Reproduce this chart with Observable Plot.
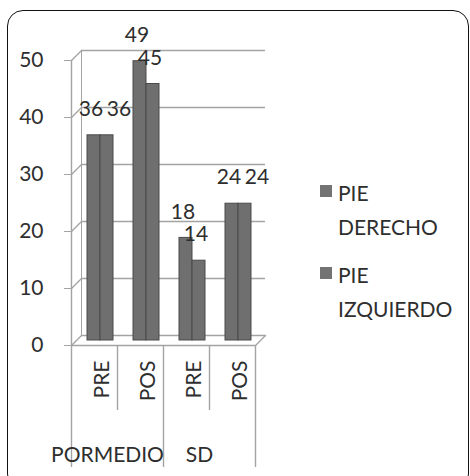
<!DOCTYPE html>
<html>
<head>
<meta charset="utf-8">
<script src="https://cdn.jsdelivr.net/npm/d3@7"></script>
<script src="https://cdn.jsdelivr.net/npm/@observablehq/plot@0.6"></script>
<style>
  html, body { margin: 0; padding: 0; background: #fff; overflow: hidden; }
  #wrap { position: relative; width: 470px; height: 476px; overflow: hidden; font-family: Lato, "DejaVu Sans", sans-serif; }
  #frame { position: absolute; left: 7px; top: 10px; width: 462px; height: 480px; border: 1.6px solid #111; border-radius: 16px; box-sizing: border-box; }
  #main, #bottom { position: absolute; left: 0; }
  #main { top: 0; }
  #legend { position: absolute; left: 320px; top: 176px; color: #2e2e2e; font-size: 21px; line-height: 34px; }
  .item { position: relative; padding-left: 18px; margin-bottom: 14px; }
  .sw { position: absolute; left: 0; top: 9px; width: 12px; height: 12px; background: #737373; }
</style>
</head>
<body>
<div id="wrap">
  <div id="frame"></div>
  <div id="main"></div>
  <div id="bottom"></div>
  <div id="legend"></div>
</div>
<script>
// ---- data ----
const categories = ["PRE", "POS", "PRE", "POS"];
const groupOfCategory = ["PORMEDIO", "PORMEDIO", "SD", "SD"];
const groups = ["PORMEDIO", "SD"];
const pieDerecho = [36, 49, 18, 24];
const pieIzquierdo = [36, 45, 14, 24];
const seriesNames = ["PIE DERECHO", "PIE IZQUIERDO"];
const yTicks = [0, 10, 20, 30, 40, 50];

// ---- build table ----
const keys = categories.map((c, i) => groupOfCategory[i] + "|" + c);
const rows = [];
keys.forEach((k, i) => {
  rows.push({key: k, series: seriesNames[0], s: 0, value: pieDerecho[i]});
  rows.push({key: k, series: seriesNames[1], s: 1, value: pieIzquierdo[i]});
});
const tie = (r) => r.s === 1 && pieDerecho[keys.indexOf(r.key)] === r.value;

const W = 470, H = 476;
const mL = 71, mR = 215, mT = 60, mB = 131;
const depth = 10;           // 3D depth offset in px
const bw = (W - mL - mR) / keys.length;
const wallLen = (H - mT - mB);
const lineShape = {draw(ctx, l) { ctx.moveTo(0, 0); ctx.lineTo(0, -l); }};

const barFill = "#6f6f6f", barStroke = "#4b4b4b", grid = "#a3a3a3", txt = "#2e2e2e";
const font = "Lato, 'DejaVu Sans', sans-serif";

const labelMarks = [
  Plot.text(rows.filter(r => r.s === 0), {x: "key", y: "value", text: d => String(d.value), dx: 22.5 - bw / 2 - 3, dy: -depth / 2 - 26, fontSize: 21, fill: txt}),
  Plot.text(rows.filter(r => r.s === 1 && !tie(r)), {x: "key", y: "value", text: d => String(d.value), dx: 35.5 - bw / 2 - 3, dy: -depth / 2 - 26, fontSize: 21, fill: txt}),
  Plot.text(rows.filter(r => tie(r)), {x: "key", y: "value", text: d => String(d.value), dx: 35.5 - bw / 2 + 12, dy: -depth / 2 - 26, fontSize: 21, fill: txt})
];

const mainPlot = Plot.plot({
  width: W, height: H,
  marginLeft: mL, marginRight: mR, marginTop: mT, marginBottom: mB,
  style: {fontFamily: font, background: "transparent", overflow: "visible"},
  x: {type: "band", domain: keys, padding: 0, axis: null},
  y: {domain: [0, 50], axis: null},
  marks: [
    Plot.ruleY(yTicks, {y: d => d, dx: depth, dy: -depth, stroke: grid, strokeWidth: 1.6}),
    Plot.vector(yTicks, {y: d => d, frameAnchor: "left", length: Math.SQRT2 * depth, rotate: 45, anchor: "start", shape: lineShape, stroke: grid, strokeWidth: 1.4}),
    Plot.vector([0], {y: d => d, frameAnchor: "left", length: wallLen, rotate: 0, anchor: "start", shape: lineShape, dx: depth, dy: -depth, stroke: grid, strokeWidth: 1}),
    Plot.ruleY([0], {stroke: grid, strokeWidth: 1.6}),
    Plot.vector([0], {y: d => d, frameAnchor: "right", length: Math.SQRT2 * depth, rotate: 45, anchor: "start", shape: lineShape, stroke: grid, strokeWidth: 1.4}),
    Plot.vector([0], {y: d => d, frameAnchor: "left", length: wallLen, rotate: 0, anchor: "start", shape: lineShape, stroke: grid, strokeWidth: 1.4}),
    Plot.axisY(yTicks, {tickSize: 7, tickPadding: 21, fontSize: 21, stroke: grid, fill: txt, label: null}),
    Plot.barY(rows.filter(r => r.s === 0), {x: "key", y: "value", insetLeft: 16, insetRight: bw - 29, dy: -depth / 2, fill: barFill, stroke: barStroke, strokeWidth: 1}),
    Plot.barY(rows.filter(r => r.s === 1), {x: "key", y: "value", insetLeft: 29, insetRight: bw - 42, dy: -depth / 2, fill: barFill, stroke: barStroke, strokeWidth: 1}),
    ...labelMarks
  ]
});
document.getElementById("main").appendChild(mainPlot);

// ---- bottom grouped category axis ----
const groupRows = groups.map(g => ({group: g, keys: keys.filter((k, i) => groupOfCategory[i] === g)}));
const bottom = Plot.plot({
  width: W, height: mB,
  marginLeft: mL, marginRight: mR, marginTop: 0, marginBottom: 0,
  style: {fontFamily: font, background: "transparent", overflow: "visible"},
  x: {type: "band", domain: keys, padding: 0, axis: null},
  marks: [
    Plot.ruleX(keys.filter((k, i) => i > 0 && groupOfCategory[i] === groupOfCategory[i - 1]), {x: d => d, dx: -bw / 2, insetBottom: 66, stroke: grid, strokeWidth: 1.4}),
    Plot.ruleX(keys.filter((k, i) => i === 0 || groupOfCategory[i] !== groupOfCategory[i - 1]), {x: d => d, dx: -bw / 2, insetBottom: 9, stroke: grid, strokeWidth: 1.4}),
    Plot.ruleX([keys[keys.length - 1]], {x: d => d, dx: bw / 2, insetBottom: 9, stroke: grid, strokeWidth: 1.4}),
    Plot.text(keys, {x: d => d, text: d => d.split("|")[1], frameAnchor: "top", dy: 15, rotate: -90, textAnchor: "end", fontSize: 21, fill: txt}),
    Plot.text(groupRows, {x: d => d.keys[0], text: "group", frameAnchor: "top", dy: 102, dx: bw / 2 - 10, fontSize: 21, fill: txt})
  ]
});
const bdiv = document.getElementById("bottom");
bdiv.style.top = (H - mB) + "px";
bdiv.appendChild(bottom);

// ---- legend ----
const legend = document.getElementById("legend");
seriesNames.forEach(name => {
  const parts = name.split(" ");
  const it = document.createElement("div");
  it.className = "item";
  it.innerHTML = '<span class="sw"></span>' + parts[0] + "<br>" + parts.slice(1).join(" ");
  legend.appendChild(it);
});
</script>
</body>
</html>
